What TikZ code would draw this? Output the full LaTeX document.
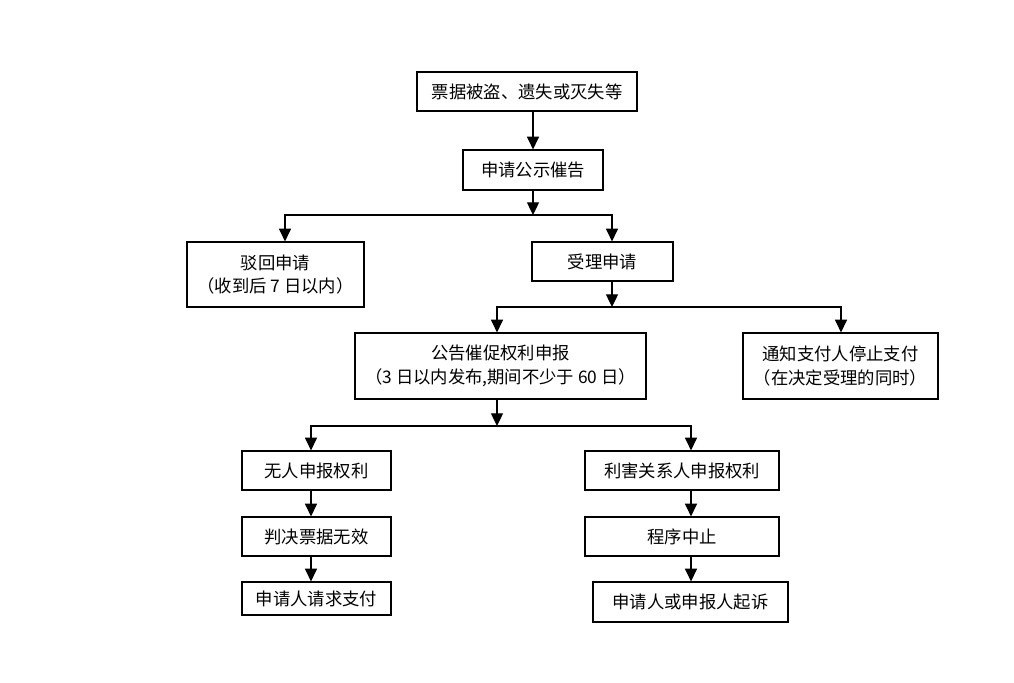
\documentclass[tikz,border=0pt]{standalone}
\usepackage{fontspec}
\newfontfamily\cjk{Noto Sans CJK SC}
\usetikzlibrary{arrows.meta}
\begin{document}
\begin{tikzpicture}[x=0.75pt,y=-0.75pt,
  box/.style={draw=black, line width=0.9pt, inner sep=0pt, align=center,
    font=\cjk\fontsize{13pt}{17.5pt}\selectfont},
  wh/.style 2 args={minimum width=#1*0.75pt, minimum height=#2*0.75pt},
  arr/.style={line width=0.9pt, -{Triangle[width=9pt,length=9.5pt]}}]
\useasboundingbox (0,0) rectangle (1014,682);
% boxes
\node[box,wh={220}{39}] (b1) at (527,91.5) {票据被盗、遗失或灭失等};
\node[box,wh={140}{40}] (b2) at (533,170) {申请公示催告};
\node[box,wh={177}{65}] (rej) at (275.5,274.5) {驳回申请\\（收到后 7 日以内）};
\node[box,wh={141}{39}] (acc) at (602.5,261.5) {受理申请};
\node[box,wh={291}{66}] (ann) at (500.5,366) {公告催促权利申报\\（3 日以内发布,期间不少于 60 日）};
\node[box,wh={195}{66}] (stop) at (840.5,366) {通知支付人停止支付\\（在决定受理的同时）};
\node[box,wh={149}{39}] (none) at (316.5,470.5) {无人申报权利};
\node[box,wh={149}{39}] (judge) at (316.5,536.5) {判决票据无效};
\node[box,wh={149}{33}] (pay) at (316.5,598.5) {申请人请求支付};
\node[box,wh={194}{39}] (party) at (682,470.5) {利害关系人申报权利};
\node[box,wh={194}{39}] (halt) at (682,536.5) {程序中止};
\node[box,wh={195}{40}] (sue) at (690.5,602) {申请人或申报人起诉};
% junctions
\coordinate (j1) at (533,215); \coordinate (j1l) at (285,215); \coordinate (j1r) at (612,215);
\coordinate (j2) at (612,307); \coordinate (j2l) at (497,307); \coordinate (j2r) at (841,307);
\coordinate (j3) at (497,426); \coordinate (j3l) at (311,426); \coordinate (j3r) at (691,426);
% connectors
\draw[arr] (b1.south -| b2.north) -- (b2.north);
\draw[arr] (b2.south -| j1) -- (j1);
\draw[arr] (j1) -- (j1l) -- (rej.north -| j1l);
\draw[arr] (j1) -- (j1r) -- (acc.north -| j1r);
\draw[arr] (acc.south -| j2) -- (j2);
\draw[arr] (j2) -- (j2l) -- (ann.north -| j2l);
\draw[arr] (j2) -- (j2r) -- (stop.north -| j2r);
\draw[arr] (ann.south -| j3) -- (j3);
\draw[arr] (j3) -- (j3l) -- (none.north -| j3l);
\draw[arr] (j3) -- (j3r) -- (party.north -| j3r);
\draw[arr] (none.south -| j3l) -- (judge.north -| j3l);
\draw[arr] (judge.south -| j3l) -- (pay.north -| j3l);
\draw[arr] (party.south -| j3r) -- (halt.north -| j3r);
\draw[arr] (halt.south -| j3r) -- (sue.north -| j3r);
\end{tikzpicture}
\end{document}
